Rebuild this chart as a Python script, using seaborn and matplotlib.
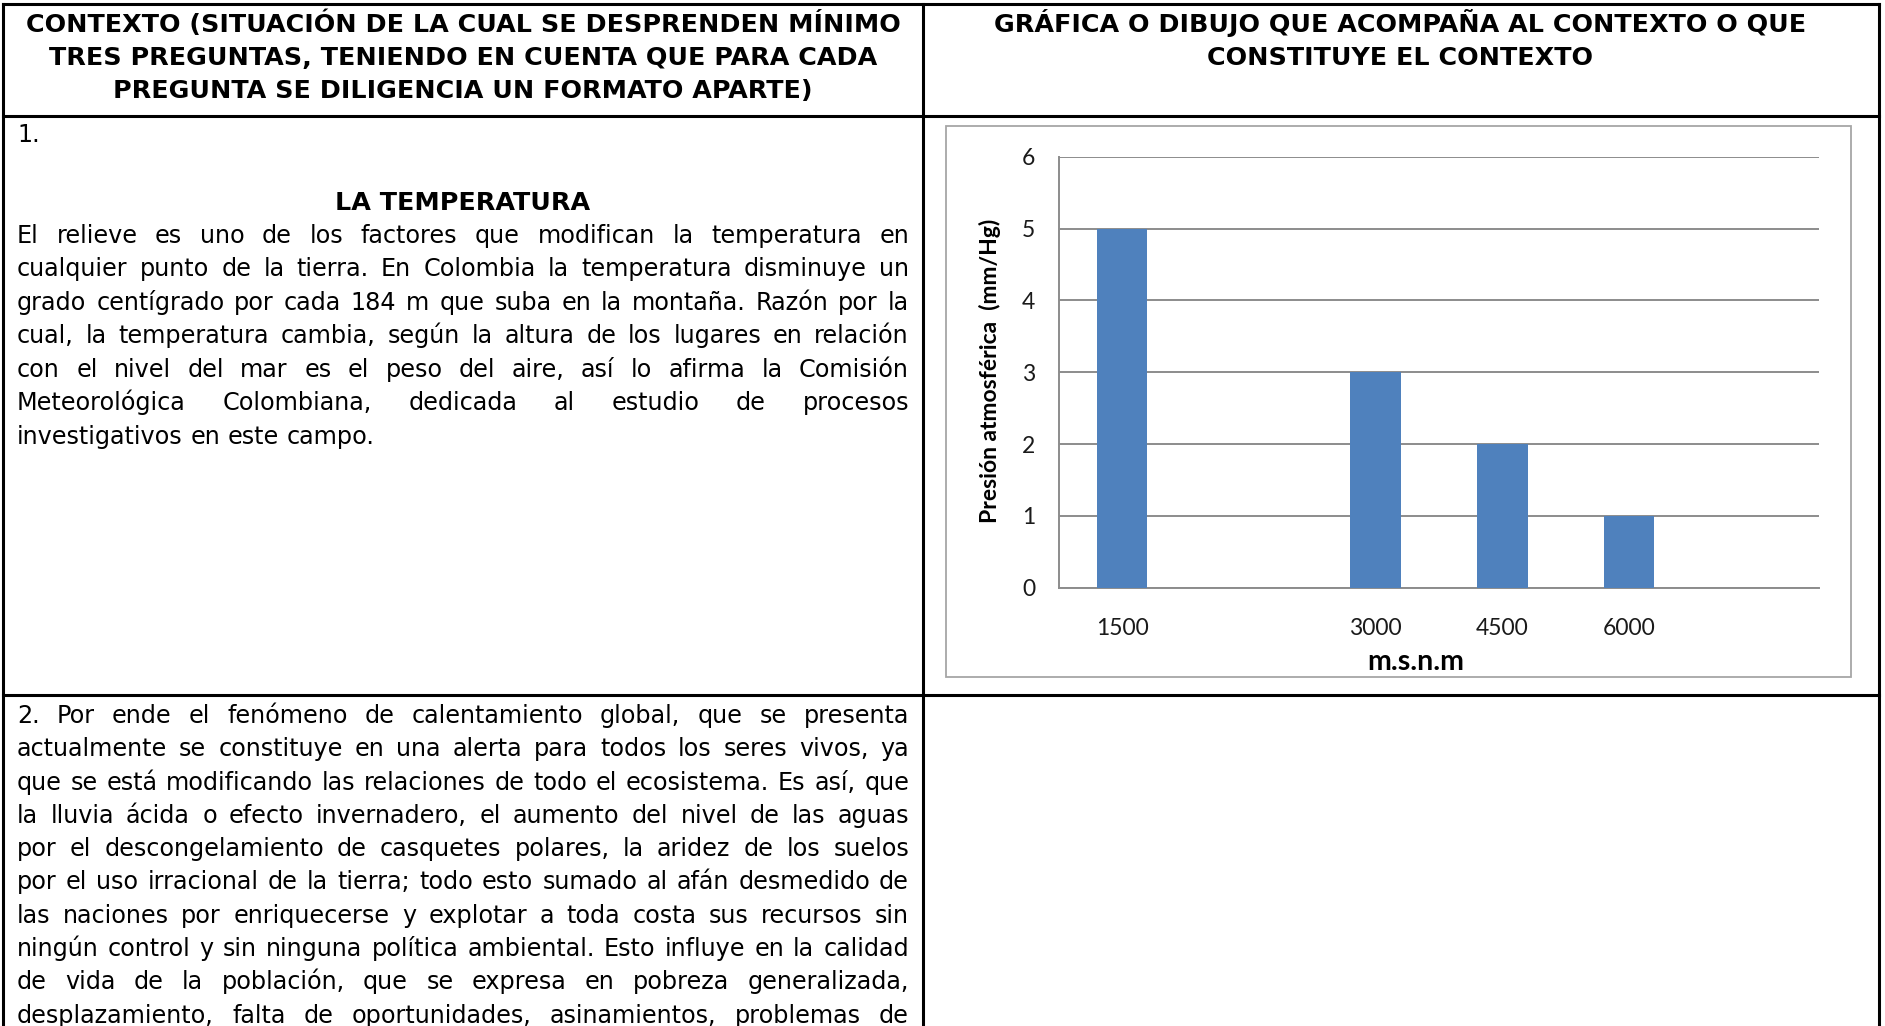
import matplotlib
matplotlib.use("Agg")
import matplotlib.pyplot as plt
from matplotlib.patches import Rectangle
import seaborn as sns
import pandas as pd

# --- chart data ---
altitudes = ["1500", "3000", "4500", "6000"]
pressure = [5, 3, 2, 1]
# the original axis keeps an empty slot after 1500 and one after 6000
axis_order = ["1500", " ", "3000", "4500", "6000", "  "]
y_ticks = [0, 1, 2, 3, 4, 5, 6]
y_title = "Presión atmosférica  (mm/Hg)"
x_title = "m.s.n.m"

# --- table text ---
header_left = [
    "CONTEXTO (SITUACIÓN DE LA CUAL SE DESPRENDEN MÍNIMO",
    "TRES PREGUNTAS, TENIENDO EN CUENTA QUE PARA CADA",
    "PREGUNTA SE DILIGENCIA UN FORMATO APARTE)",
]
header_right = [
    "GRÁFICA O DIBUJO QUE ACOMPAÑA AL CONTEXTO O QUE",
    "CONSTITUYE EL CONTEXTO",
]
title_1 = "LA TEMPERATURA"
text_1 = [
    "El relieve es uno de los factores que modifican la temperatura en",
    "cualquier punto de la tierra. En Colombia la temperatura disminuye un",
    "grado centígrado por cada 184 m que suba en la montaña. Razón por la",
    "cual, la temperatura cambia, según la altura de los lugares en relación",
    "con el nivel del mar es el peso del aire, así lo afirma la Comisión",
    "Meteorológica Colombiana, dedicada al estudio de procesos",
    "investigativos en este campo.",
]
text_2 = [
    "2. Por ende el fenómeno de calentamiento global, que se presenta",
    "actualmente se constituye en una alerta para todos los seres vivos, ya",
    "que se está modificando las relaciones de todo el ecosistema. Es así, que",
    "la lluvia ácida o efecto invernadero, el aumento del nivel de las aguas",
    "por el descongelamiento de casquetes polares, la aridez de los suelos",
    "por el uso irracional de la tierra; todo esto sumado al afán desmedido de",
    "las naciones por enriquecerse y explotar a toda costa sus recursos sin",
    "ningún control y sin ninguna política ambiental. Esto influye en la calidad",
    "de vida de la población, que se expresa en pobreza generalizada,",
    "desplazamiento, falta de oportunidades, asinamientos, problemas de",
]

W, H = 1885, 1026
plt.rcParams["font.family"] = ["DejaVu Sans"]

fig = plt.figure(figsize=(W / 100, H / 100), dpi=100)
bg = fig.add_axes([0, 0, 1, 1])
bg.set_xlim(0, W)
bg.set_ylim(H, 0)
bg.axis("off")
renderer = fig.canvas.get_renderer()


def width_of(s, size, weight="normal"):
    t = bg.text(0, 0, s, fontsize=size, fontweight=weight)
    w = t.get_window_extent(renderer).width
    t.remove()
    return w


def put_justified(lines, x0, x1, y0, step, size, last_is_end=True):
    sp = width_of("a a", size) - width_of("aa", size)
    em = size * 100 / 72
    for i, line in enumerate(lines):
        y = y0 + i * step + 0.27 * em
        words = line.split()
        widths = [width_of(w, size) for w in words]
        if (last_is_end and i == len(lines) - 1) or len(words) == 1:
            gap = sp
        else:
            gap = (x1 - x0 - sum(widths)) / (len(words) - 1)
        x = x0
        for w, wd in zip(words, widths):
            bg.text(x, y, w, fontsize=size, va="baseline", ha="left")
            x += wd + gap


# --- table grid ---
lw = 2.2
for y in [4, 116, 695]:
    bg.plot([3, 1879], [y, y], color="black", lw=lw, solid_capstyle="projecting")
for x in [3, 923, 1879]:
    bg.plot([x, x], [4, H], color="black", lw=lw, solid_capstyle="projecting")

# --- headers ---
head_size = 10 * 873 / width_of(header_left[0], 10, "bold")
head_em = head_size * 100 / 72
for i, line in enumerate(header_left):
    bg.text(463, 22.8 + i * 33.2 + 0.36 * head_em, line, fontsize=head_size,
            fontweight="bold", ha="center", va="baseline")
for i, line in enumerate(header_right):
    bg.text(1400, 22.8 + i * 33.2 + 0.36 * head_em, line, fontsize=head_size,
            fontweight="bold", ha="center", va="baseline")

# --- row 1 text ---
body_size = 10 * 357 / width_of(text_1[-1], 10)
body_em = body_size * 100 / 72
bg.text(17, 135.5 + 0.27 * body_em, "1.", fontsize=body_size, va="baseline")
bg.text(463, 200.5 + 0.36 * head_em, title_1, fontsize=head_size,
        fontweight="bold", ha="center", va="baseline")
put_justified(text_1, 17, 909, 236.5, 33.5, body_size)

# --- row 2 text (paragraph continues below the crop) ---
put_justified(text_2, 17, 909, 716.5, 33.3, body_size, last_is_end=False)

# --- chart frame ---
bg.add_patch(Rectangle((946, 126), 905, 551, fill=False, ec="#A6A6A6", lw=1.3))

# --- bar chart ---
ax = fig.add_axes([1058.7 / W, 1 - 587.7 / H, 760.3 / W, 431 / H])
df = pd.DataFrame({"alt": altitudes, "pres": pressure})
sns.barplot(data=df, x="alt", y="pres", order=axis_order, color="#4F81BD",
            saturation=1, width=0.4, ax=ax, zorder=3)
ax.set_ylim(0, 6)
ax.set_yticks(y_ticks)
ax.set_axisbelow(True)
ax.yaxis.grid(True, color="#8C8C8C", lw=1.4)
ax.set_facecolor("none")
for s in ["top", "right"]:
    ax.spines[s].set_visible(False)
for s in ["left", "bottom"]:
    ax.spines[s].set_color("#8C8C8C")
    ax.spines[s].set_linewidth(1.4)
ax.tick_params(length=0)
ax.tick_params(axis="y", pad=17)
ax.tick_params(axis="x", pad=22)
for lab in ax.get_xticklabels() + ax.get_yticklabels():
    lab.set_family("Lato")
    lab.set_fontsize(16.5)
    lab.set_color("#1A1A1A")

ax.set_xlabel(x_title, family="Lato", fontweight="bold", fontsize=20.5, va="center")
ax.xaxis.set_label_coords(0.47, -0.172)
ax.set_ylabel(y_title, family="Lato", fontweight="bold", fontsize=16.5, va="center")
ax.yaxis.set_label_coords(-0.090, 0.503)

fig.savefig("out.png", dpi=100)
